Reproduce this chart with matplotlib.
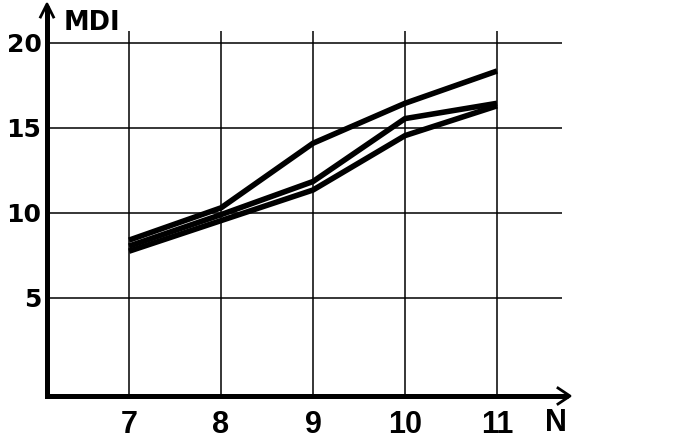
import matplotlib
matplotlib.use("Agg")
import matplotlib.pyplot as plt

# ---- data ----
n_values = [7, 8, 9, 10, 11]
x_tick_labels = ["7", "8", "9", "10", "11"]
y_ticks = [5, 10, 15, 20]
y_tick_labels = ["5", "10", "15", "20"]
series_a = [8.4, 10.3, 14.1, 16.45, 18.35]
series_b = [8.05, 9.9, 11.85, 15.55, 16.45]
series_c = [7.75, 9.55, 11.35, 14.55, 16.3]
x_label = "N"
y_label = "MDI"

W, H = 676, 442
fig = plt.figure(figsize=(W / 100, H / 100), dpi=100)
ax_left, ax_right, ax_top, ax_bottom = 47, 570, 4, 396
ax = fig.add_axes([ax_left / W, (H - ax_bottom) / H,
                   (ax_right - ax_left) / W, (ax_bottom - ax_top) / H])
ax.set_xlim(6.109, 11.793)
ax.set_ylim(-0.765, 22.29)
for s in ax.spines.values():
    s.set_visible(False)

# grid lines
ax.hlines(y_ticks, 6.109, 11.71, colors="black", lw=1.1, zorder=1)
ax.vlines(n_values, -0.765, 20.71, colors="black", lw=1.1, zorder=1)

# data lines
for ser in (series_a, series_b, series_c):
    ax.plot(n_values, ser, color="black", lw=4.0, solid_capstyle="butt",
            solid_joinstyle="round", zorder=3)

# axes with arrows
aw = ax_right - ax_left
ah = ax_bottom - ax_top
ax.plot([0, 0, 1 - 2 / aw], [1 - 2 / ah, 0, 0], transform=ax.transAxes,
        color="black", lw=3.6, solid_joinstyle="miter", solid_capstyle="butt",
        clip_on=False, zorder=4)
ax.plot([-6.5 / aw, 0, 6.5 / aw], [1 - 13 / ah, 1, 1 - 13 / ah],
        transform=ax.transAxes, color="black", lw=2, clip_on=False, zorder=4)
ax.plot([1 - 12 / aw, 1, 1 - 12 / aw], [8 / ah, 0, -8 / ah],
        transform=ax.transAxes, color="black", lw=2, clip_on=False, zorder=4)

# ticks
narrow = ["Liberation Sans", "DejaVu Sans"]
ax.set_xticks(n_values)
ax.set_xticklabels(x_tick_labels, fontsize=22, fontweight="bold", family=narrow)
ax.set_yticks(y_ticks)
ax.set_yticklabels(y_tick_labels, fontsize=18, fontweight="bold",
                   family="DejaVu Sans")
ax.tick_params(axis="x", length=0, pad=10)
ax.tick_params(axis="y", length=0, pad=4)

fig.text(64 / W, 1 - 30 / H, y_label, fontsize=18.5, fontweight="bold",
         family="DejaVu Sans", ha="left", va="baseline")
fig.text(556 / W, 1 - 431 / H, x_label, fontsize=22, fontweight="bold",
         family=narrow, ha="center", va="baseline")

fig.savefig("out.png", dpi=100)
